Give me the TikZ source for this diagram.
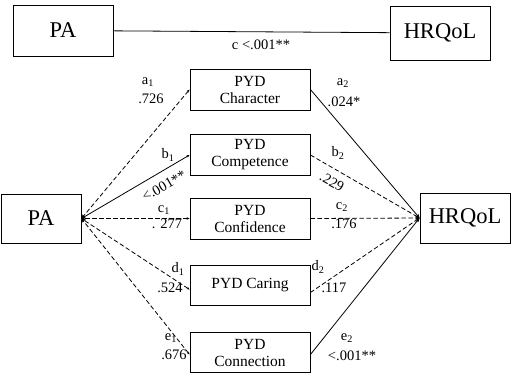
\documentclass[tikz,border=0pt]{standalone}
\usepackage{fontspec}
\setmainfont{Liberation Serif}
\usetikzlibrary{arrows.meta}

\begin{document}
\begin{tikzpicture}[x=1pt,y=-1pt,
  var/.style={draw, line width=0.9pt, minimum width=#1, inner sep=0pt, font=\fontsize{22.5}{24}\selectfont},
  pyd/.style={draw, line width=0.9pt, minimum width=120, minimum height=41, inner sep=0pt, align=center, font=\fontsize{15.5}{17}\selectfont},
  lab/.style={font=\fontsize{14.5}{15}\selectfont, inner sep=0pt},
  path/.style={line width=0.8pt, -{Stealth[length=4pt,width=3.5pt]}},
  ns/.style={path, dash pattern=on 4.5pt off 2.5pt},
  both/.style={{Stealth[length=3pt,width=2.5pt]}-{Stealth[length=4pt,width=3.5pt]}}]

\useasboundingbox (0,0) rectangle (512,376);

% Total effect (top row)
\node[var=100, minimum height=51] (patop) at (63,30.5) {PA};
\node[var=100, minimum height=54] (hrtop) at (440,33) {HRQoL};
\draw[line width=0.8pt] (patop) -- (hrtop);
\node[lab] (c) at (261,45) {c <.001**};

% Predictor, outcome and the five mediators
\node[var=80, minimum height=49] (pa) at (41,218.5) {PA};
\node[var=90, minimum height=50] (hr) at (465,218) {HRQoL};
\node[pyd] (char) at (250,89.5) {PYD\\Character};
\node[pyd] (comp) at (250,155) {PYD\\Competence};
\node[pyd] (conf) at (250,218.5) {PYD\\Confidence};
\node[pyd, minimum height=40] (care) at (250,285.5) {PYD Caring};
\node[pyd, minimum height=40] (conn) at (250,352.5) {PYD\\Connection};

% PA side
\draw[ns, both] (char.west) -- (pa.east);
\draw[path, both] (comp.west) -- (pa.east);
\draw[ns, both] (conf.west) -- (pa.east);
\draw[ns, both] ([yshift=-4]care.west) -- (pa.east);
\draw[ns, both] ([yshift=-2]conn.west) -- (pa.east);

% HRQoL side
\draw[path] (char.east) -- (hr.west);
\draw[ns] (comp.east) -- (hr.west);
\draw[ns] (conf.east) -- (hr.west);
\draw[ns] ([yshift=-7]care.east) -- (hr.west);
\draw[path] ([yshift=-2]conn.east) -- (hr.west);

% Labels, left
\node[lab] (a1) at (148,82) {a\textsubscript{1}};
\node[lab] (a1v) at (151,99) {.726};
\node[lab] (b1) at (168,155) {b\textsubscript{1}};
\node[lab, rotate=29.5] (b1v) at (164,186) {<.001**};
\node[lab] (c1) at (164,210) {c\textsubscript{1}};
\node[lab] (c1v) at (167,224) {. 277};
\node[lab] (d1) at (178,269) {d\textsubscript{1}};
\node[lab] (d1v) at (170,288) {.524};
\node[lab] (e1) at (171,338) {e\textsubscript{1}};
\node[lab] (e1v) at (174,355) {.676};

% Labels, right
\node[lab] (a2) at (343,83) {a\textsubscript{2}};
\node[lab] (a2v) at (344,102) {.024*};
\node[lab] (b2) at (338,153) {b\textsubscript{2}};
\node[lab, rotate=-29] (b2v) at (332,182) {.229};
\node[lab] (c2) at (342,207) {c\textsubscript{2}};
\node[lab] (c2v) at (344,224) {.176};
\node[lab] (d2) at (318,267) {d\textsubscript{2}};
\node[lab] (d2v) at (334,288) {.117};
\node[lab] (e2) at (347,338) {e\textsubscript{2}};
\node[lab] (e2v) at (352,356) {<.001**};

\end{tikzpicture}
\end{document}
